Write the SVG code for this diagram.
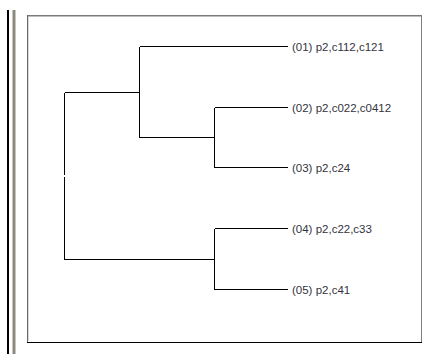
<svg xmlns="http://www.w3.org/2000/svg" width="424" height="354" viewBox="0 0 424 354">
<style>
.ln{stroke:#000;stroke-width:1;fill:none;shape-rendering:crispEdges}
.lbl{font-family:"Liberation Sans",Arial,sans-serif;font-size:11.5px;fill:#333340}
</style>
<rect width="424" height="354" fill="#fff"/>
<g id="chrome" shape-rendering="crispEdges">
<rect x="7" y="10" width="2" height="344" fill="#000"/>
<rect x="12" y="10" width="4" height="344" fill="#c8c6bc"/>
<rect x="13" y="10" width="1.5" height="344" fill="#8c8a80"/>
<line x1="27" y1="15.5" x2="422" y2="15.5" stroke="#7a7a7a" stroke-width="1"/>
<line x1="27" y1="16.5" x2="421" y2="16.5" stroke="#bdbdbd" stroke-width="1"/>
<line x1="27.5" y1="15" x2="27.5" y2="342" stroke="#6a6a6a" stroke-width="1"/>
<line x1="28.5" y1="17" x2="28.5" y2="341" stroke="#d8d8d8" stroke-width="1"/>
<line x1="421.5" y1="15" x2="421.5" y2="343" stroke="#808080" stroke-width="1"/>
<line x1="27" y1="342.5" x2="422" y2="342.5" stroke="#000" stroke-width="1"/>
</g>
<g id="connectors">
<path class="ln" d="M139.5 46.5H288"/>
<path class="ln" d="M214.5 107.5H288"/>
<path class="ln" d="M214.5 167.5H288"/>
<path class="ln" d="M214.5 228.5H288"/>
<path class="ln" d="M214.5 289.5H288"/>
<path class="ln" d="M214.5 107.5V167.5"/>
<path class="ln" d="M214.5 228.5V289.5"/>
<path class="ln" d="M139.5 46.5V137.5H214.5"/>
<path class="ln" d="M64.5 92.5H139.5"/>
<path class="ln" d="M64.5 92.5V175"/>
<path class="ln" d="M64.5 177V259.5H214.5"/>
</g>
<g id="n01"><text class="lbl" x="292" y="51">(01) p2,c112,c121</text></g>
<g id="n02"><text class="lbl" x="292" y="111.5">(02) p2,c022,c0412</text></g>
<g id="n03"><text class="lbl" x="292" y="172">(03) p2,c24</text></g>
<g id="n04"><text class="lbl" x="292" y="233">(04) p2,c22,c33</text></g>
<g id="n05"><text class="lbl" x="292" y="293.5">(05) p2,c41</text></g>
</svg>
